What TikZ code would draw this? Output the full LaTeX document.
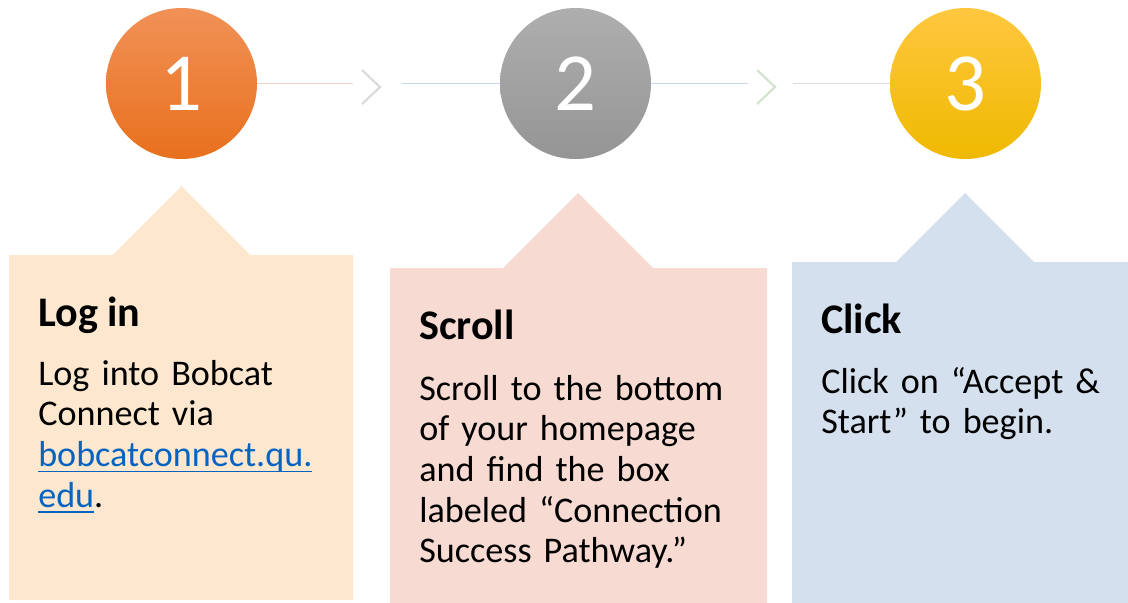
\documentclass[tikz,border=0pt]{standalone}
\usepackage{fontspec}
\setmainfont{Carlito}
\usepackage{xcolor}
\usetikzlibrary{positioning}

\definecolor{peach}{HTML}{FDE8CF}
\definecolor{blush}{HTML}{F7DAD2}
\definecolor{mist}{HTML}{D5E0EE}
\definecolor{linkblue}{HTML}{0563C1}
\definecolor{orangetop}{HTML}{F19157}
\definecolor{orangebot}{HTML}{E8701D}
\definecolor{greytop}{HTML}{AEAEAE}
\definecolor{greybot}{HTML}{959595}
\definecolor{goldtop}{HTML}{FFC73F}
\definecolor{goldbot}{HTML}{EFB900}
\definecolor{salmonline}{HTML}{F5D3C6}
\definecolor{blueline}{HTML}{C9D6EC}
\definecolor{greyline}{HTML}{DADADA}
\definecolor{greenchev}{HTML}{D3E2CC}

\tikzset{
  numdisc/.style={circle, minimum size=151*0.75pt, inner sep=0pt, shading=axis,
    text=white, font=\fontsize{62}{62}\selectfont},
  steptitle/.style={anchor=base west, inner sep=0pt, font=\fontsize{31.6}{36}\selectfont\bfseries},
  stepbody/.style={anchor=base west, inner sep=0pt, text width=320pt, align=left,
    font=\fontsize{27.1}{30.5}\selectfont},
  link/.style={line width=1.1pt},
  chev/.style={line width=1.6pt}
}

% underlined web address
\newcommand\weblink[1]{\leavevmode{\color{linkblue}\setbox0\hbox{#1}\rlap{\rule[-4.6pt]{\wd0}{1.4pt}}\box0}}

% box with a pointed top: left, right, top, bottom, apex x, half base, colour
\newcommand\tipbox[7]{
  \fill[#7] (#1,#4) -- (#1,#3) -- (#5-#6,#3) -- (#5,#3-#6)
    -- (#5+#6,#3) -- (#2,#3) -- (#2,#4) -- cycle;
}

\begin{document}
\begin{tikzpicture}[x=0.75pt, y=-0.75pt]
\useasboundingbox (0,0) rectangle (1128,603);

\tipbox{9}{353}{255}{600}{181.5}{69}{peach}
\tipbox{390}{767}{268}{603}{578}{75}{blush}
\tipbox{792}{1128}{262}{603}{965}{69}{mist}

\node[numdisc, top color=orangetop, bottom color=orangebot] (n1) at (181.5,83.5) {1};
\node[numdisc, top color=greytop, bottom color=greybot] (n2) at (575.5,83.5) {2};
\node[numdisc, top color=goldtop, bottom color=goldbot] (n3) at (965.5,83.5) {3};

% links between the discs
\coordinate (a1) at (353,83.5);
\coordinate (a2) at (402,83.5);
\coordinate (a3) at (748,83.5);
\coordinate (a4) at (793,83.5);
\draw[link, salmonline] (n1.east) -- (a1);
\draw[link, blueline] (a2) -- (n2.west);
\draw[link, blueline] (n2.east) -- (a3);
\draw[link, greyline] (a4) -- (n3.west);
\draw[chev, greyline] (362,70) -- (380,87) -- (362,104);
\draw[chev, greenchev] (757,70) -- (775,87) -- (757,104);

\node[steptitle] (t1) at (38,326) {Log in};
\node[stepbody] (b1) at (38,385) {Log into Bobcat\\Connect via\\\weblink{bobcatconnect.qu.}\\\weblink{edu}.};

\node[steptitle] (t2) at (419,339) {Scroll};
\node[stepbody] (b2) at (419,400) {Scroll to the bottom\\of your homepage\\and find the box\\labeled “Connection\\Success Pathway.”};

\node[steptitle] (t3) at (821,333) {Click};
\node[stepbody] (b3) at (821,393) {Click on “Accept \&\\Start” to begin.};
\end{tikzpicture}
\end{document}
